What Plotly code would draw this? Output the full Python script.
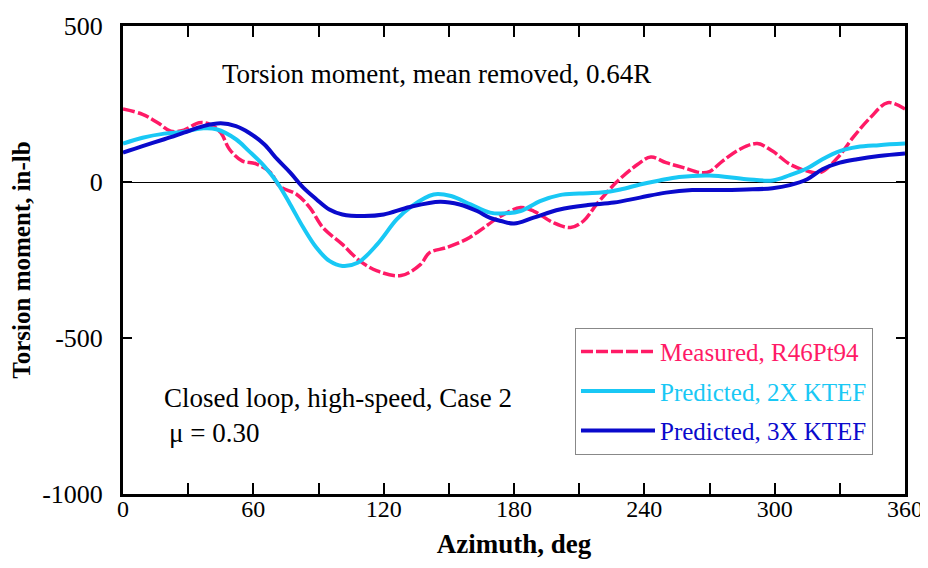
import plotly.graph_objects as go

# ---- data ----
meas_az = [0, 9, 16, 22, 28, 35, 40, 45, 49, 55, 61, 68, 72, 80, 86, 92, 101, 109, 117, 128,
           137, 141, 149, 158, 164, 174, 183, 189, 198, 206, 212, 218, 227, 237, 243, 250,
           258, 266, 270, 276, 284, 292, 299, 307, 315, 321, 329, 336, 344, 352, 360]
meas_val = [234, 217, 190, 163, 166, 190, 185, 158, 105, 67, 59, 30, -13, -40, -82, -146, -200,
            -253, -285, -300, -264, -227, -210, -184, -157, -109, -82, -93, -130, -146, -125,
            -72, -2, 57, 80, 62, 46, 30, 33, 67, 105, 123, 99, 57, 35, 30, 78, 142, 206, 254, 234]

p2_az = [0, 9, 19, 28, 37, 43, 52, 58, 65, 71, 77, 83, 89, 95, 101, 108, 117, 126, 133, 143,
         151, 160, 169, 174, 183, 192, 201, 210, 220, 229, 238, 247, 256, 270, 287, 299, 307,
         315, 322, 330, 338, 348, 360]
p2_val = [123, 142, 155, 161, 172, 169, 137, 99, 51, -2, -72, -146, -210, -253, -269, -259, -200,
          -120, -77, -40, -45, -72, -98, -101, -93, -61, -42, -37, -34, -24, -8, 5, 16, 21, 9,
          5, 22, 44, 73, 99, 112, 118, 123]

p3_az = [0, 9, 19, 28, 37, 45, 52, 58, 65, 71, 77, 83, 89, 95, 101, 111, 120, 132, 146, 155,
         163, 169, 174, 180, 189, 201, 214, 226, 238, 250, 262, 272, 287, 299, 307, 315, 322,
         330, 338, 348, 360]
p3_val = [94, 115, 137, 158, 179, 188, 179, 158, 121, 73, 30, -18, -55, -88, -104, -109, -104, -80,
          -63, -72, -93, -115, -125, -133, -114, -88, -74, -66, -50, -34, -26, -26, -24, -20, -10,
          9, 41, 62, 73, 83, 91]

x_tickvals = [0, 30, 60, 90, 120, 150, 180, 210, 240, 270, 300, 330, 360]
x_ticktext = ["0", "", "60", "", "120", "", "180", "", "240", "", "300", "", "360"]
y_tickvals = [-1000, -500, 0, 500]
y_ticktext = ["-1000", "-500", "0", "500"]

PINK = "#ff1a66"
CYAN = "#19c8f5"
BLUE = "#0a0acc"
FONT = "Liberation Serif"

fig = go.Figure()
fig.add_trace(go.Scatter(
    x=meas_az, y=meas_val, mode="lines", line=dict(color=PINK, width=3.5, shape="spline", dash="12px,3px"),
    name=f"<span style='color:{PINK}'>Measured, R46Pt94</span>", legendgroup="a"))
fig.add_trace(go.Scatter(
    x=p2_az, y=p2_val, mode="lines", line=dict(color=CYAN, width=4, shape="spline"),
    name=f"<span style='color:{CYAN}'>Predicted, 2X KTEF</span>", legendgroup="b"))
fig.add_trace(go.Scatter(
    x=p3_az, y=p3_val, mode="lines", line=dict(color=BLUE, width=4, shape="spline"),
    name=f"<span style='color:{BLUE}'>Predicted, 3X KTEF</span>", legendgroup="c"))

# the page body has an 8px margin, so the figure is sized to sit inside the 928x568 window
fig.update_layout(
    width=920, height=552,
    margin=dict(l=115, r=23, t=18, b=66),
    paper_bgcolor="white", plot_bgcolor="white",
    font=dict(family=FONT, color="black", size=20),
    showlegend=True,
    legend=dict(x=0.578, y=0.355, xanchor="left", yanchor="top",
                bordercolor="#888888", borderwidth=1, bgcolor="white",
                font=dict(family=FONT, size=25), tracegroupgap=4, itemwidth=74),
    xaxis=dict(range=[0, 360], tickvals=x_tickvals, ticktext=x_ticktext,
               ticks="inside", ticklen=11, tickwidth=1.5, tickcolor="black",
               showline=True, linecolor="black", linewidth=3, mirror="ticks",
               showgrid=False, zeroline=False, automargin=False, ticklabelstandoff=-9,
               tickfont=dict(family=FONT, size=24),
               title=dict(text="<b>Azimuth, deg</b>", font=dict(family=FONT, size=27), standoff=14)),
    yaxis=dict(range=[-1000, 500], tickvals=y_tickvals, ticktext=y_ticktext,
               ticks="inside", ticklen=9, tickwidth=1.5, tickcolor="black",
               showline=True, linecolor="black", linewidth=3, mirror="ticks",
               showgrid=False, zeroline=True, zerolinecolor="black", zerolinewidth=1,
               automargin=False, ticklabelstandoff=12,
               tickfont=dict(family=FONT, size=26),
               title=dict(text="<b>Torsion moment, in-lb</b>", font=dict(family=FONT, size=25), standoff=8)),
    annotations=[
        dict(text="Torsion moment, mean removed, 0.64R", xref="paper", yref="paper",
             x=0.124, y=0.897, xanchor="left", yanchor="middle", showarrow=False,
             font=dict(family=FONT, size=27)),
        dict(text="Closed loop, high-speed, Case 2", xref="paper", yref="paper",
             x=0.05, y=0.205, xanchor="left", yanchor="middle", showarrow=False,
             font=dict(family=FONT, size=27)),
        dict(text="\u03bc = 0.30", xref="paper", yref="paper",
             x=0.056, y=0.13, xanchor="left", yanchor="middle", showarrow=False,
             font=dict(family=FONT, size=27)),
    ],
)

fig.write_html("out.html")
